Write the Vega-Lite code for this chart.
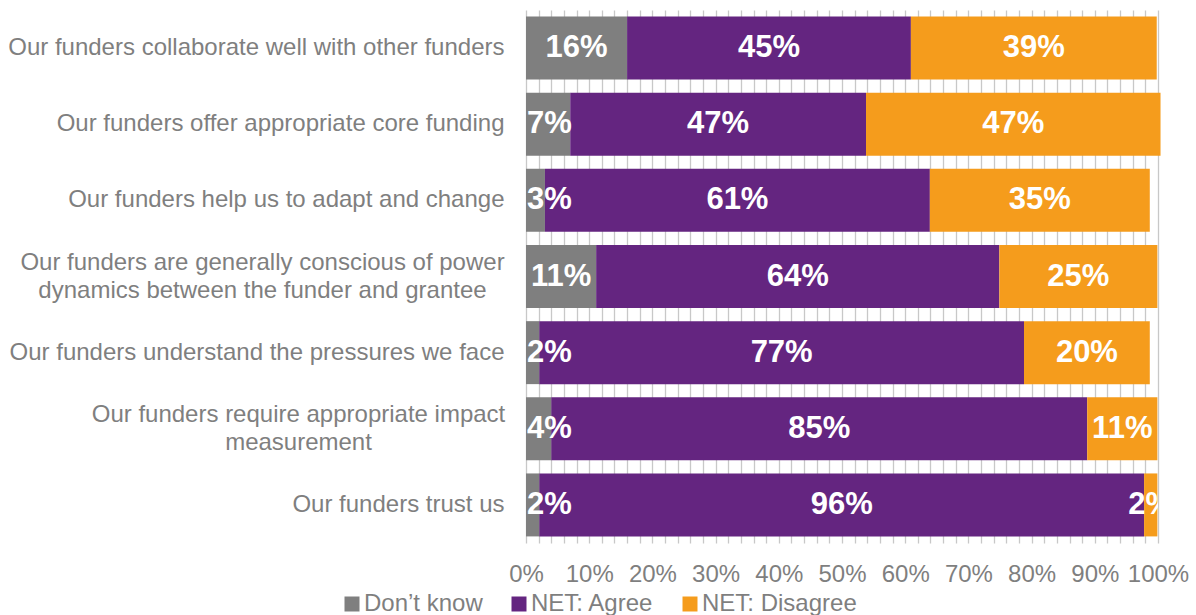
{
  "$schema": "https://vega.github.io/schema/vega-lite/v6.json",
  "width": 632,
  "height": 533,
  "autosize": {"type": "none"},
  "padding": {"left": 526, "top": 10, "right": 38, "bottom": 72},
  "background": "white",
  "config": {"view": {"stroke": null}, "font": "Liberation Sans"},
  "data": {
    "values": [
      {"question": "Our funders collaborate well with other funders", "series": "Don’t know", "value": 16.0},
      {"question": "Our funders collaborate well with other funders", "series": "NET: Agree", "value": 44.9},
      {"question": "Our funders collaborate well with other funders", "series": "NET: Disagree", "value": 38.9},
      {"question": "Our funders offer appropriate core funding", "series": "Don’t know", "value": 7.0},
      {"question": "Our funders offer appropriate core funding", "series": "NET: Agree", "value": 46.8},
      {"question": "Our funders offer appropriate core funding", "series": "NET: Disagree", "value": 46.6},
      {"question": "Our funders help us to adapt and change", "series": "Don’t know", "value": 3.0},
      {"question": "Our funders help us to adapt and change", "series": "NET: Agree", "value": 60.9},
      {"question": "Our funders help us to adapt and change", "series": "NET: Disagree", "value": 34.8},
      {"question": "Our funders are generally conscious of power|dynamics between the funder and grantee", "series": "Don’t know", "value": 11.1},
      {"question": "Our funders are generally conscious of power|dynamics between the funder and grantee", "series": "NET: Agree", "value": 63.8},
      {"question": "Our funders are generally conscious of power|dynamics between the funder and grantee", "series": "NET: Disagree", "value": 25.0},
      {"question": "Our funders understand the pressures we face", "series": "Don’t know", "value": 2.1},
      {"question": "Our funders understand the pressures we face", "series": "NET: Agree", "value": 76.7},
      {"question": "Our funders understand the pressures we face", "series": "NET: Disagree", "value": 19.9},
      {"question": "Our funders require appropriate impact|measurement", "series": "Don’t know", "value": 4.0},
      {"question": "Our funders require appropriate impact|measurement", "series": "NET: Agree", "value": 84.8},
      {"question": "Our funders require appropriate impact|measurement", "series": "NET: Disagree", "value": 11.1},
      {"question": "Our funders trust us", "series": "Don’t know", "value": 2.1},
      {"question": "Our funders trust us", "series": "NET: Agree", "value": 95.7},
      {"question": "Our funders trust us", "series": "NET: Disagree", "value": 2.1}
    ]
  },
  "transform": [
    {"stack": "value", "groupby": ["question"], "sort": [{"field": "series"}], "as": ["x0", "x1"]},
    {"calculate": "max((datum.x0 + datum.x1) / 2, 3.7)", "as": "mid"},
    {"calculate": "format(datum.value, '.0f') + '%'", "as": "lbl"}
  ],
  "encoding": {
    "y": {
      "field": "question",
      "type": "nominal",
      "sort": null,
      "scale": {"paddingInner": 0.173, "paddingOuter": 0.0865},
      "axis": {
        "title": null,
        "domain": false,
        "ticks": false,
        "labelLimit": 0,
        "labelFontSize": 24,
        "labelColor": "#7f7f7f",
        "labelLineHeight": 28,
        "labelExpr": "split(datum.label, '|')",
        "labelAlign": {"condition": {"test": "indexof(datum.value, '|') >= 0", "value": "center"}, "value": "right"},
        "labelOffset": {"condition": {"test": "indexof(datum.value, '|') >= 0", "value": -14}, "value": 0},
        "labelPadding": {"condition": [{"test": "indexof(datum.value, 'conscious') >= 0", "value": 264}, {"test": "indexof(datum.value, 'impact') >= 0", "value": 228}], "value": 22}
      }
    }
  },
  "layer": [
    {
      "mark": {"type": "bar"},
      "encoding": {
        "x": {
          "field": "x0",
          "type": "quantitative",
          "scale": {"domain": [0, 100], "nice": false},
          "axis": {
            "title": null,
            "values": [0,2,4,6,8,10,12,14,16,18,20,22,24,26,28,30,32,34,36,38,40,42,44,46,48,50,52,54,56,58,60,62,64,66,68,70,72,74,76,78,80,82,84,86,88,90,92,94,96,98,100],
            "labelExpr": "datum.value % 10 === 0 ? datum.value + '%' : ''",
            "labelOverlap": false,
            "labelFlush": false,
            "grid": true,
            "gridColor": "#c8c8c8",
            "gridWidth": 1.3,
            "domain": false,
            "ticks": false,
            "labelFontSize": 24,
            "labelColor": "#7f7f7f",
            "labelPadding": 19
          }
        },
        "x2": {"field": "x1"},
        "color": {
          "field": "series",
          "type": "nominal",
          "scale": {"domain": ["Don’t know", "NET: Agree", "NET: Disagree"], "range": ["#7f7f7f", "#642580", "#f59c1c"]},
          "legend": {
            "title": null,
            "orient": "none",
            "legendX": -186,
            "legendY": 582,
            "direction": "horizontal",
            "symbolType": "square",
            "symbolSize": 225,
            "symbolStrokeWidth": 0,
            "labelFontSize": 24,
            "labelColor": "#7f7f7f",
            "labelOffset": 0,
            "columnPadding": 24,
            "padding": 0
          }
        }
      }
    },
    {
      "mark": {"type": "text", "clip": true, "color": "white", "fontWeight": "bold", "fontSize": 31, "baseline": "middle"},
      "encoding": {
        "x": {
          "field": "mid",
          "type": "quantitative",
          "axis": {
            "title": null,
            "values": [0,2,4,6,8,10,12,14,16,18,20,22,24,26,28,30,32,34,36,38,40,42,44,46,48,50,52,54,56,58,60,62,64,66,68,70,72,74,76,78,80,82,84,86,88,90,92,94,96,98,100],
            "labelExpr": "datum.value % 10 === 0 ? datum.value + '%' : ''",
            "labelOverlap": false,
            "labelFlush": false,
            "grid": true,
            "gridColor": "#c8c8c8",
            "gridWidth": 1.3,
            "domain": false,
            "ticks": false,
            "labelFontSize": 24,
            "labelColor": "#7f7f7f",
            "labelPadding": 19
          }
        },
        "text": {"field": "lbl"}
      }
    }
  ]
}
